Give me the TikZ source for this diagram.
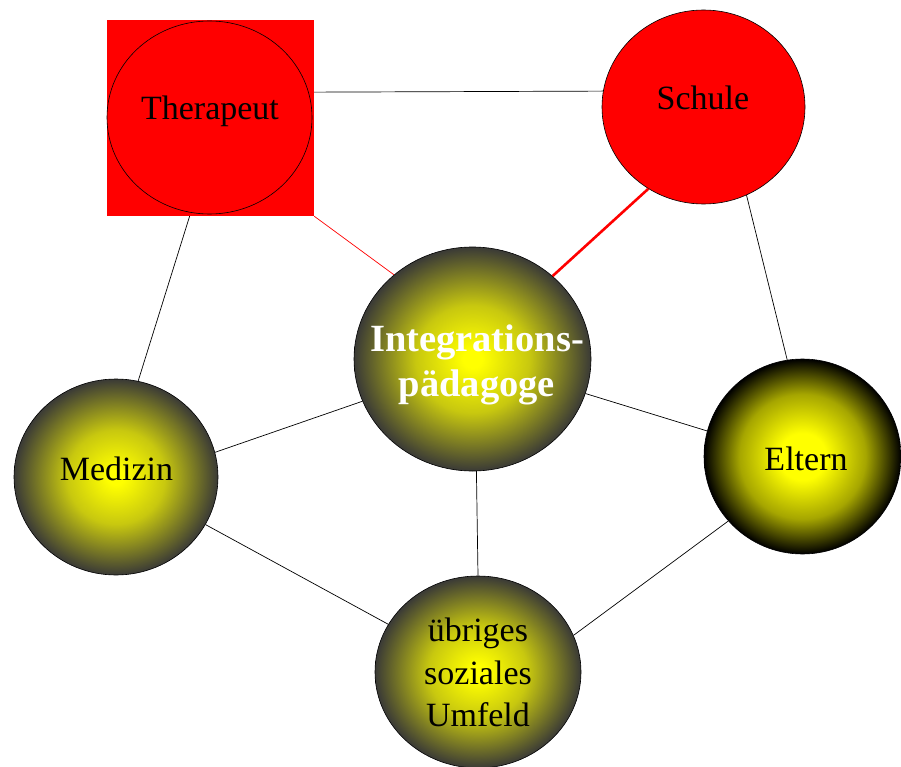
\documentclass[tikz,border=0pt]{standalone}
\usepackage{fontspec}
\setmainfont{Liberation Serif}
\usetikzlibrary{shapes.geometric}
\definecolor{balledge}{HTML}{3A3A36}
\definecolor{pured}{HTML}{FF0000}
\pgfdeclareradialshading{ballgray}{\pgfpoint{0bp}{0bp}}{color(0bp)=(yellow); color(2bp)=(yellow); color(12bp)=(yellow!72!balledge); color(25bp)=(balledge); color(50bp)=(balledge)}
\pgfdeclareradialshading{ballblack}{\pgfpoint{0bp}{0bp}}{color(0bp)=(yellow); color(6bp)=(yellow); color(16bp)=(yellow!65!black); color(25bp)=(black); color(50bp)=(black)}
\tikzset{
  ball/.style={ellipse, inner sep=0pt, draw=black, line width=0.6pt, shade, shading=ballgray},
  redball/.style={ellipse, inner sep=0pt, draw=black, line width=0.6pt, fill=pured},
  conn/.style={draw=black, line width=0.7pt},
  redthin/.style={draw=pured, line width=0.7pt},
  redthick/.style={draw=pured, line width=2.6pt},
  lbl/.style={font=\fontsize{34}{42.5}\selectfont, text=black, inner sep=0pt},
  iplbl/.style={font=\fontsize{38.5}{45}\selectfont\bfseries, text=white, inner sep=0pt}
}
\begin{document}
\begin{tikzpicture}[x=1pt, y=-1pt]
\useasboundingbox (0,0) rectangle (901,767);
% nodes
\node[rectangle, fill=pured, inner sep=0pt, minimum width=207pt, minimum height=196pt] (ther) at (210.5,118) {};
\node[redball, minimum width=205pt, minimum height=193pt] (therc) at (209.5,117.5) {};
\node[redball, minimum width=203pt, minimum height=194pt] (sch) at (703.5,107) {};
\node[ball, minimum width=237pt, minimum height=224pt] (ip) at (472.5,359) {};
\node[ball, minimum width=204pt, minimum height=196pt] (med) at (116,477) {};
\node[ball, minimum width=206pt, minimum height=192pt] (umf) at (478,672) {};
\node[ball, shading=ballblack, minimum width=197pt, minimum height=195pt] (elt) at (802.5,456.5) {};
% connectors
\draw[conn] (ther.14.1) -- (sch.171);
\draw[conn] (ther.258.2) -- (med.77.2);
\draw[redthin] (ther.south east) -- (ip.133.4);
\draw[redthick] (sch.236.9) -- (ip.46.6);
\draw[conn] (sch.-64.7) -- (elt.99.7);
\draw[conn] (ip.201.7) -- (med.14);
\draw[conn] (ip.-17.1) -- (elt.165.9);
\draw[conn] (ip.272.8) -- (umf.90);
\draw[conn] (med.-28.8) -- (umf.152.9);
\draw[conn] (elt.221) -- (umf.21.9);
% labels
\node[lbl, anchor=base] (tther) at (210,120) {Therapeut};
\node[lbl, anchor=base] (tsch) at (703,110) {Schule};
\node[lbl, anchor=base] (tmed) at (116.5,480) {Medizin};
\node[lbl, anchor=base] (telt) at (806,470) {Eltern};
\node[lbl, align=center, anchor=base] (tumf) at (478,726.7) {übriges\\soziales\\Umfeld};
\node[iplbl, align=center, anchor=base] (tip) at (477,396.7) {Integrations-\\pädagoge};
\end{tikzpicture}
\end{document}
